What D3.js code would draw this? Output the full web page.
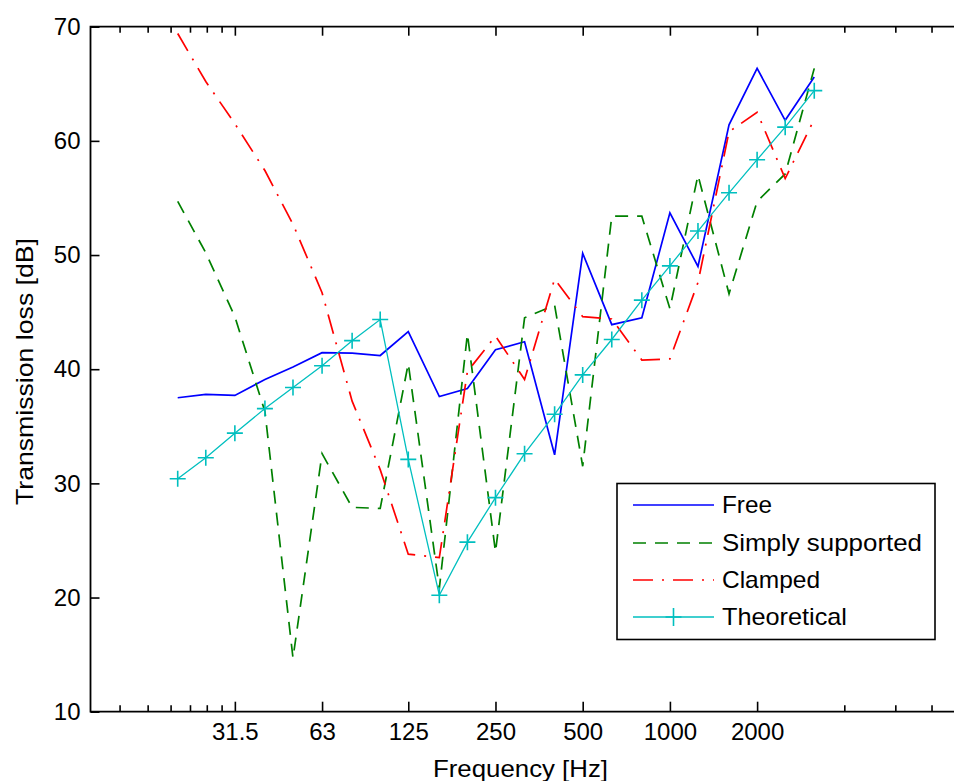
<!DOCTYPE html>
<html>
<head>
<meta charset="utf-8">
<script src="https://cdn.jsdelivr.net/npm/d3@7"></script>
<style>
  html, body { margin: 0; padding: 0; background: #fff; }
  svg { display: block; }
  text { font-family: "Liberation Sans", Arial, sans-serif; fill: #000; }
</style>
</head>
<body>
<svg id="chart" width="954" height="781"></svg>
<script>
// ---- data ----
const freqs = [20, 25, 31.5, 40, 50, 63, 80, 100, 125, 160, 200, 250, 315, 400, 500, 630, 800, 1000, 1250, 1600, 2000, 2500, 3150];
const free = [37.5, 37.8, 37.7, 39.1, 40.2, 41.45, 41.4, 41.2, 43.3, 37.6, 38.3, 41.7, 42.4, 32.5, 50.15, 43.9, 44.5, 53.7, 49.0, 61.4, 66.35, 61.8, 65.6];
const simplySupported = [54.7, 50.2, 44.6, 36.3, 14.7, 32.6, 27.9, 27.8, 40.5, 20.8, 43.1, 24.0, 44.5, 45.6, 31.5, 53.4, 53.4, 45.3, 57.0, 46.6, 54.7, 57.1, 66.35];
const clamped = [69.4, 65.2, 61.5, 57.4, 52.7, 46.7, 37.2, 31.2, 23.8, 23.5, 39.8, 42.9, 39.1, 47.9, 44.6, 44.4, 40.8, 40.9, 47.6, 60.8, 62.5, 56.7, 61.9];
const theoretical = [30.4, 32.25, 34.4, 36.55, 38.4, 40.3, 42.5, 44.35, 32.1, 20.2, 24.85, 28.75, 32.6, 36.05, 39.5, 42.6, 46.05, 49.05, 52.1, 55.45, 58.35, 61.2, 64.4];

const xMajorTicks = [31.5, 63, 125, 250, 500, 1000, 2000];
const xMajorLabels = ["31.5", "63", "125", "250", "500", "1000", "2000"];
const xMinorTicks = [12.6, 15.75, 18.9, 22.05, 25.2, 28.35, 4000, 6000, 8000];
const yTicks = [10, 20, 30, 40, 50, 60, 70];
const yTickLabels = ["10", "20", "30", "40", "50", "60", "70"];

const seriesNames = ["Free", "Simply supported", "Clamped", "Theoretical"];
const seriesValues = [free, simplySupported, clamped, theoretical];

// ---- styles ----
const styles = [
  { color: "#0000ff", dash: null, width: 1.7 },
  { color: "#008000", dash: "13,9", width: 1.7 },
  { color: "#ff0000", dash: "20,9,2,9", width: 1.7 },
  { color: "#00bfbf", dash: null, width: 1.3, marker: true }
];
const legendTextLen = [50, 200, 98, 125];

const svg = d3.select("#chart");
const pLeft = 90.5, pRight = 959.6, pTop = 26.7, pBottom = 711.7;

const x = d3.scaleLog().domain([10, 10000]).range([pLeft, pRight]);
const y = d3.scaleLinear().domain([10, 70]).range([pBottom, pTop]);

const FONT = 24;

// ---- axes ----
const gBottom = svg.append("g").attr("transform", `translate(0,${pBottom})`)
  .call(d3.axisBottom(x).tickValues(xMajorTicks).tickFormat((d, i) => xMajorLabels[i]).tickSize(-10).tickPadding(11));
const gBottomMinor = svg.append("g").attr("transform", `translate(0,${pBottom})`)
  .call(d3.axisBottom(x).tickValues(xMinorTicks).tickFormat("").tickSize(-6.5));
const gTop = svg.append("g").attr("transform", `translate(0,${pTop})`)
  .call(d3.axisTop(x).tickValues(xMajorTicks).tickFormat("").tickSize(-9));
const gTopMinor = svg.append("g").attr("transform", `translate(0,${pTop})`)
  .call(d3.axisTop(x).tickValues(xMinorTicks).tickFormat("").tickSize(-6));
const gLeft = svg.append("g").attr("transform", `translate(${pLeft},0)`)
  .call(d3.axisLeft(y).tickValues(yTicks).tickFormat((d, i) => yTickLabels[i]).tickSize(-9).tickPadding(10));

[gBottom, gBottomMinor, gTop, gTopMinor, gLeft].forEach(g => {
  g.select(".domain").remove();
  g.selectAll(".tick line").attr("stroke", "#000").attr("stroke-width", 1.6);
  g.selectAll(".tick text").attr("font-size", FONT).attr("font-family", "Liberation Sans, Arial, sans-serif").attr("fill", "#000");
});

// frame lines (box extends beyond right edge)
svg.append("path")
  .attr("d", `M${pRight},${pTop}H${pLeft}V${pBottom}H${pRight}`)
  .attr("fill", "none").attr("stroke", "#000").attr("stroke-width", 1.8);

// ---- axis titles ----
svg.append("text")
  .attr("x", 520.5).attr("y", 777)
  .attr("text-anchor", "middle").attr("font-size", FONT)
  .attr("textLength", 175).attr("lengthAdjust", "spacingAndGlyphs")
  .text("Frequency [Hz]");
svg.append("text")
  .attr("transform", "translate(33,371.5) rotate(-90)")
  .attr("text-anchor", "middle").attr("font-size", FONT)
  .attr("textLength", 267).attr("lengthAdjust", "spacingAndGlyphs")
  .text("Transmission loss [dB]");

// ---- series ----
const line = d3.line().x((d, i) => x(freqs[i])).y(d => y(d));
const gData = svg.append("g");
seriesValues.forEach((vals, k) => {
  const st = styles[k];
  gData.append("path")
    .attr("d", line(vals))
    .attr("fill", "none")
    .attr("stroke", st.color)
    .attr("stroke-width", st.width)
    .attr("stroke-dasharray", st.dash)
    .attr("stroke-linejoin", "miter");
  if (st.marker) {
    const m = 8;
    gData.selectAll(null).data(vals).join("path")
      .attr("d", (d, i) => {
        const cx = x(freqs[i]), cy = y(d);
        return `M${cx - m},${cy}H${cx + m}M${cx},${cy - m}V${cy + m}`;
      })
      .attr("stroke", st.color).attr("stroke-width", 1.6).attr("fill", "none");
  }
});

// ---- legend ----
const lg = svg.append("g");
lg.append("rect").attr("x", 617).attr("y", 483.5).attr("width", 318).attr("height", 156)
  .attr("fill", "#fff").attr("stroke", "#000").attr("stroke-width", 1.6);
const rowY = [505, 543, 580, 617];
seriesNames.forEach((name, k) => {
  const st = styles[k];
  lg.append("line").attr("x1", 633).attr("x2", 714).attr("y1", rowY[k]).attr("y2", rowY[k])
    .attr("stroke", st.color).attr("stroke-width", st.width).attr("stroke-dasharray", st.dash);
  if (st.marker) {
    lg.append("path").attr("d", `M673.5,${rowY[k] - 9}V${rowY[k] + 9}M665.5,${rowY[k]}H681.5`)
      .attr("stroke", st.color).attr("stroke-width", 1.6);
  }
  lg.append("text").attr("x", 722).attr("y", rowY[k]).attr("dy", "0.35em")
    .attr("font-size", FONT)
    .attr("textLength", legendTextLen[k]).attr("lengthAdjust", "spacingAndGlyphs")
    .text(name);
});
</script>
</body>
</html>
